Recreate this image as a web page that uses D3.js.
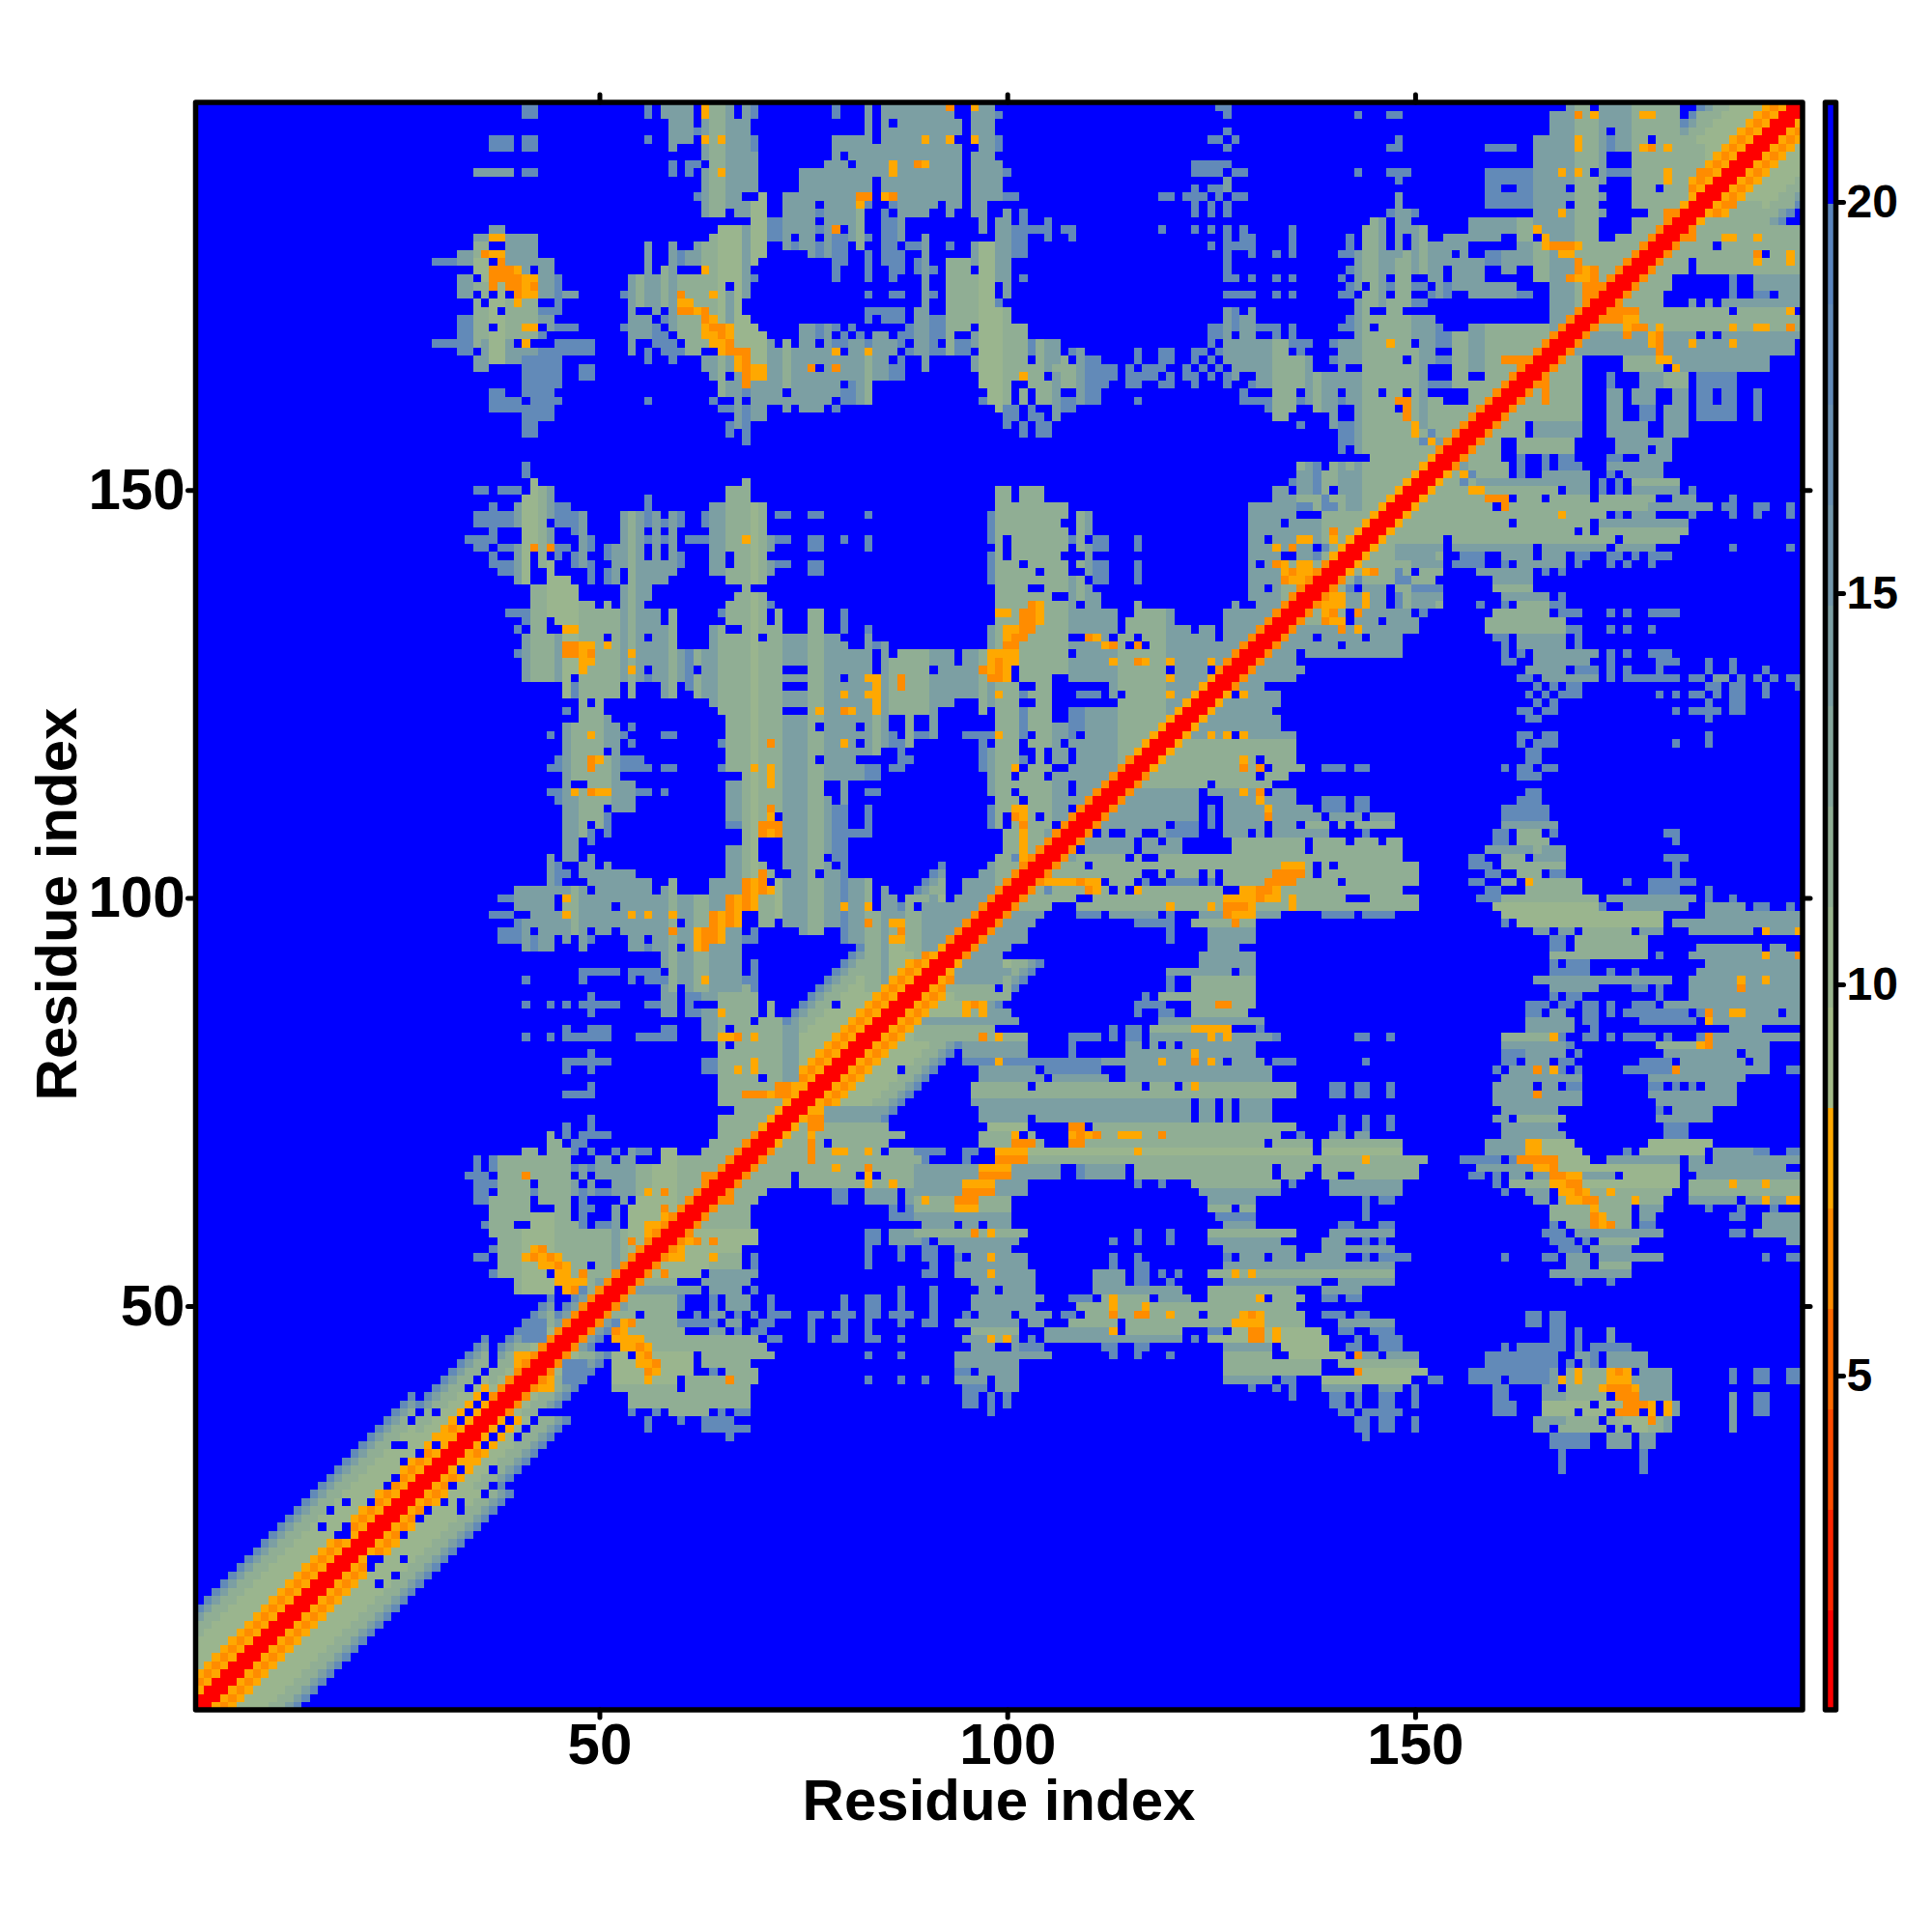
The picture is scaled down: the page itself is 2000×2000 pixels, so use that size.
<!DOCTYPE html>
<html><head><meta charset="utf-8">
<script src="https://cdn.jsdelivr.net/npm/d3@7"></script>
<style>html,body{margin:0;background:#fff}svg{display:block}text{font-family:"Liberation Sans",Arial,sans-serif;font-weight:700;fill:#000}</style>
</head><body><div id="c"></div>
<script>
const residueCount = 197;
const axisTicks = [50, 100, 150];
const barTicks = [5, 10, 15, 20];
const axisTitle = "Residue index";
const barDomain = [0.73, 21.27];
const palette = ["#ff0000","#ff2500","#ff4b00","#ff6a00","#ff8c00","#ffa800","#a4bb88","#9ab58e","#90ae94","#86a69c","#7c9fa3","#7397ab","#6a90b2","#628ab8","#5a84bd","#0000ff"];
// distance (in angstrom) read for each letter used in the contact rows
const levelValues = {".":21, a:18, b:14.2, c:11.6, e:10.3, g:9.1, o:7.6, d:6.3};
// stretches of the main diagonal: first residue, last residue, reach of the halo, helix-like orange stripe
const bandFirst = [1, 28, 37, 45, 70, 93, 116, 126, 140, 153, 183];
const bandLast  = [27, 36, 44, 69, 92, 115, 125, 139, 152, 182, 197];
const bandReach = [12, 10, 7, 4, 12, 4, 8, 4, 8, 4, 12];
const bandHelix = [1, 1, 0, 0, 1, 0, 1, 0, 1, 0, 1];
// Lower-right triangle, read row by row: "y: x0-x1L ..." with L the level letter
const rowsLowY = [
"52:54-62b 64-67b 69a 87a 91a 97a 98a 100-101a","51:54-59c 60a 64a 66-68b 71a 80a 83-84a 87a 91a 96-101b","50:54-59c 60a 64a 66-68b 71a 80a 83-84a 87a 91a 96-101b",
"49:52-54c 56-59c 62a 64-65b 67a 69a 71-73a 76-77a 79-81a 83-84a 86-88a 91a 95a 97-100c 102a",
"48:53o 54d 55-59c 60-63a 64a 66-67b 70-71a 76a 80a 83a 87a 90-91a 94-101b",
"47:52d 53o 54-60c 64-65b 67a 69-70a 76a 80a 83a 96-101c",
"46:52-55o 56-69c 71-72a 76a 79-80a 83-84a 87a 95-97b 98o 99c 100o 101b",
"45:53-54o 55d 56o 57-70c 96-98b 101b",
"44:52-53e 55o 56d 57-61e 63-71c 83a 87a 94-101b","43:46-48a 52-54e 55o 56o 57d 58-61e 63-68c 94-101b",
"42:46-48a 52-55e 56d 57o 58-61e 64a 66-69c 94-95a 97-101b","41:46-47a 52-55e 56o 57-59e 61-65c 66d 67-69c 83a 87a 90a 94-97b 99-101b",
"40:52-59c 61-68c 95-97a 99-101b","39:54-68c 95-96a 98a 100a","38:54-68c 95-96a 98a 100a","37:54a 57a 59-63c 65a 67-68a 98a",
"36:56a 60a 63-66a","35:56a 63-68a","34:66a",
"53:55-59c 63-68b","54:54-62e 58d 64-69b","55:57-63e 64-67c 69a 83a","56:58-64e 58-60o 64o 65-67c 69a 83a 87a","57:59-60o 61-67e 83a 87a",
"58:60-61o 62d 63-69e 64d 83-84a 86-90b","59:61-69e 83-84a 86-90b","60:62-68c","61:63-68c 86-90a","62:64o 65-68c 86a 88-90a",
"63:65-69c 66d 79-80a 83-86b 88-89b 90o","64:66-70c 79-80a 83-86b 88-90b","65:67-73c 75-90c 83o 86o 90o","66:68-73c 75-81c 83o 85-90c",
"67:69-76c 77-90c 79o 83d","68:70-90c 76d","69:71-90c 79-80o 83o 85. 76d 91-92a","70:72-85c 76d 78.","71:73-87c 76o","72:74-85c 76-77d","73:75-84b 76-77d","74:76-84b 76-77o"
];
const rowsMidY = [
"91:93-100b 120-130b 128.","90:94-99b 120a 123-130c","89:93-100c 99. 120a 123-130c","88:94-100c 117a 119-130c","87:95-97o 96d 99a 116-118a 119a 123-130c 126-127d",
"86:95o 96c 97o 98-100b 116a 119-120a 123-129c","85:90-101b 119-131b","84:89-98c 113a 115-116a 118-123c 123-127o 131a",
"83:89-102c 97d 99o 108-111a 113a 115-116a 118-132b 125o 127o 133a 143-144a 147a","82:95-102b 108a 115-130b 117. 119. 121.",
"81:95-102b 108a 115-130b 123o","80:95-111a 112-131b 99o 119o 123d 125o 127. 133-134a 135a 144a","79:97-103b 105-111a 115-132b","78:97-112b 115-132b 105.",
"77:96-135c 123o 103. 117. 121. 140-141a 143-144a 147a","76:96-135c 140-141a 143-144a 147a","75:96-132b 123. 126. 128.","74:97-132b 123. 126. 128.",
"73:97-132b 103. 123. 126. 128. 141a 144a 147a","72:98-102e 108-109d 111-135c 141a 144a 147a",
"71:97-103c 101o 102. 105. 108o 109d 110o 111d 112-133c 114-116o 119d 136a 140-141b 143-144b",
"70:97-104c 101-103d 108-109d 110-148c 132. 138.","69:89-91a 95-96a 99-102o 103-148e 116o 138.","68:90a 95a 99-102d 103-151c 144o",
"67:89-106b 97-100o 109a 110-114b 116-150c 133. 138.","66:89-106b 97-100d 109a 110-114b 116-150c 133. 137-138. 141-142.",
"65:89-102b 95-98o 116a 119a 123-133c 135a 140-148b","64:89-102b 95-98d 124-133b 140-148b","63:89-100c 90o 94-96d 125-130b 144a 146-147a",
"62:89-100c 94-96o 125-130c 128. 144a","61:89-100b 126-130a 144a","60:90-100b 94. 97. 127-130b 141-142a 146-147a",
"59:89-102c 96d 98o 116a 120a 125-135c 140-147b","58:90a 92-101b 113a 116a 120a 125-133b 139-141b 144a 146a","57:90-91a 94-100b 127-135b 139-147b",
"56:90-91a 94a 96-102b 98o 113a 116a 127a 129-131b 133-135b 137-141b 144a 146-149a","55:91a 94-102b 113a 116-117a 127-147b",
"54:90-91a 94-103b 98o 111-114b 116-117a 119a 121a 125-147c 128o 130o","53:96-103b 111-114b 116-117a 120a 127-138b 141-147b",
"52:97-103b 99. 111-121b 125-135c 139-143b","51:96-104b 108-110a 112-117c 113o 119-122b 125-136c 131o 132. 139-140a 142-143a",
"50:96-103b 109-124c 113o 117o 125-135c","49:97-100b 102-105b 107-108a 110-123c 113d 116-117d 120o 125-136c 129-131o 130d 139-141a 143-144a",
"48:103-104b 108-113c 115-124c 125-136c 128-131o 141-147b","47:105-112b 113o 115-121c 125-126a 128-138e 130-131d 133o 141-142a 145-147a",
"46:103a 105-121b 123a 125-139e 130-131d 133o 143a 146-148a","45:102-104a 112-113a 116-117a 127-132b 134-139e 142-143a 146-148a",
"44:102-105b 113a 116a 120a 127-132c 135-141e 143d 144-145b 147-150b","43:127-138c 141-150c","42:127-138c 143d 144-151e",
"41:127-132b 134-135a 139-149e 152-153a","40:130a 133a 135a 139-143b 146-148b 150a","39:135a 140-141a 143a 146-147a 150a","38:140-141a 143a 146-147a 150a",
"37:141-142a 144-148a","36:143-144a 146-147a 150a","35:143-144a 146-147a 150a","34:144a"
];
const rowsUpperMid = [
"92:93-99b 124-130b","93:94-99b 124-130b","94:96-100b 125-128b","95:97-102b 120a 125-130b","96:97-102b 120a 125-130b","97:98-103b 116-120a 123-130c 128d",
"98:99-104b 109-111a 113-118b 120a 124-133b 127d 128-130o 139-142a 144-147a","99:100-105c 109-150c 120o 125o 127-129d 130o 135o",
"100:101-108c 111-150c 127-133o 131d 135o 142-144.","101:102-104c 106-116c 110d 111o 113. 115. 116o 117-126c 129-133o 131-132d 134-148c",
"102:105-111o 109d 113-115c 117a 120-123a 125a 127-131c 132-135d 136-150c 141.","103:104-132c 133-136d 137-150c 138. 117-118. 120. 124. 126.","104:105-150c 134-136o 138. 110. 140.",
"105:106-107b 109-148c 115. 117-118.","106:107-121b 128-148c 109. 116. 137.","107:108-121b 128-148c 116. 119. 137. 142. 146.","108:109-119b 120-123a 127-131b 133-141b 111. 113-114. 117-118. 130. 140-141. 144a 146.","109:110-119b 121-123a 125a 127-131b 133-135b 137-147c 140. 142.",
"110:111-123b 125a 127-131b 132d 133-138b 140-143b 145-147b","111:112-123b 125a 127-131b 132o 133-137b 139-141a 143-144a","112:113-123b 127-130b 131o 132-135b 139-141a 143-144a",
"113:114-123b 125-131b 129o 131d 133-135b","114:115-132c 125.","115:116-134c 131.","116:117-136c 129d 131d 132. 139-141a 143-144a","117:118-135c 129o 131.","118:119-135c","119:120-135c",
"120:121-135b 125o 127o 128. 129o","121:122-133b","122:123-133b","123:124-132b","124:125-133b","125:126-133b 127o 128. 129o","126:127-131b","127:128-135b","128:129-136b","129:130-135b",
"130:131-135b 137-148b","131:132-140b 142-148b","132:133-137b 139-143b 145-148b","133:134-143b 141d 143o 144-150b","134:136-138c 139d 140-141o 143-145b 147-150b",
"135:136-141c 139o 140d 143d 144-149b 151a","136:137-141o 142-146b 144o 148-153c","137:138-141o 142-146b 144o 148-153c","138:139-141c 144-146b 148-150c",
"139:140-142c 144-152c","140:141-150c 144o 145d 148o 150. 151-153c","141:142-152c","142:143-153c","143:144-153c","144:145-153c","145:146-155c","146:147-155c","147:148-155c","148:149-155c","149:150-155c","150:151-155c","151:152-155c","152:153-155c"
];
const rowsRight = [
"153:157-161c 163a 166a 168-170a 174-180b","152:154-155c 157a 159-161c 163a 166-171b 174a 176-180b","151:154-155c 156a 158-171b 173a 175a 177-182c",
"150:152-156c 157-159o 159-167c 168. 169-171b 173a 175a 177-182b 184a","149:155-158c 159-161d 162. 163-165c 167-171c 173-179c 182-184b 189a",
"148:151-159c 161d 162-178c 179-186b 188-189a 192-193a 196a","147:150-152c 155-173c 168o 175a 177-179b 184a 189a 192a 196a","146:149-161c 163-171c 173-183b",
"145:148-183c 170. 172.","144:148-153c 155-182c 175.","143:148-153b 155-164b 166-173b 175-179b 189a 196a","142:148-152b 156-158a 161-164b 166-168b 170-171a 174-175a 177a 179-181a",
"141:150-153b 155-158a 161a 163-168b 170a 174a 176a 179a","140:148a 158-164b 166a 168a","139:148-149a 160-164b","138:150-153a 160-164c","137:148a 150-153b 161-166b 168a",
"136:148a 150-152b 158a 161a 163-166c 167-168a","135:160-166c 168-170a 174a 176a 179-182a","134:159-168c","133:159-168c 169-170a 174a 176a 179a","132:160-161a 163-168b 170a",
"131:161a 163-168b 170a","130:161a 163a 165-172b 174a 176a 179-181a","129:161-162a 165-171b 174a 180-182a 186a 189a","128:164-168b 170-172a 174a 176a 180a 186a 189a 193a",
"127:163-164a 166-172b 174a 176-182a 184-185a 187-188b 190a 192a 194a 196-197a","126:165a 167a 169-170a 186-187a 189-190a 193a 197a","125:164a 166a 168-170a 180a 182a 184-185a 187a 189-190a 193a",
"124:165a 167a 186a 189-190a","123:163-164a 166-167a 182a 184-187a 189-190a","122:164-165a 186a","120:163-164a 166-167a 186a","119:163a 165a 166-167a 182a 186a",
"118:164-165a","117:164-165a","116:161a 163-164a 166-167a","115:163-165a","113:164-165a","112:163-165a","111:161-166a","110:161-166a","109:161-167b",
"108:160-161a 163-165c 167a 181-182a","107:160-161a 163-166c 182a","106:159-168b 165c","105:157-158a 161-163c 165-168b 181-183a","104:157-159a 161-168c 182a",
"103:159-160a 163-165c 167-168a 182a","102:157-158a 161-162c 164o 165-170c 176a 179-184a","101:159-160a 164-170c 179-182a 186a","100:158-160a 161-172c 174-184b 186a 189a",
"99:160-172e 173a 176-183b 186-190b 192-193a 196a","98:161-180e 186-197b","97:161a 163-180e 182-197b","96:165-166b 168-169b 171-176c 178-180b 184-191b 193o 194-196b 197o",
"95:167-168a 170-178c","94:167-168a 170-178c 185-192b 194-195b","93:167-178c 180a 184-196b 193o 197d","92:167a 169-171a 186-197b","91:167-171a 174a 177a 185-197b",
"90:165-181b 184-197b 190o 193o","89:167-172b 177-178a 180a 184-197b 190d","88:167a 169-170a 180a 184-197b","87:164-166a 168-169a 171-172a 174a 177-179a 181-197b",
"86:164-165a 167-168b 171-172a 174a 176-183a 185a 186d 187-188b 189-190o 191-194b 196-197b","85:164-169b 171-172a 178-179a 180-184a 186o 187-197b","84:164-169b 172a 189-192b",
"83:161-166c 167o 168a 171-172a 174a 176-179a 181a 185a 186d 187-197b","82:161-168b 169a 180-184c 185o 186d 187-193b","81:161-163a 164-168b 170a 181-193b 190.",
"80:161-162a 164-166b 168-169a 178-181a 183-190b 192-193b","79:160a 162-164b 165d 166b 167o 168a 170a 176-181a 182d 183-193b 196-197a","78:161-170b 179-190b",
"77:160-164b 166-167b 169-170a 179-180a 182a 184a 186-189b","76:160-164b 165d 166-170b 179-189b","75:160-170b 180-189b","74:161-167b 180a 182-186b","73:160-161b 163-168c 180-186b",
"72:161-167b 181-183a","71:161-168b 181-183a","70:159-163b 164-165o 166-169e 179-186e","69:159-163b 164-165o 166-170e 176a 178-185e 187-191b 192-193a 196-197a",
"68:156-160a 162a 163-167d 168-171e 174-182b 184-185b 187-197b","67:158-165b 165-166o 167d 168-182e 184-195b","66:157-158a 160a 162-163b 165-166b 167-168d 169-170o 171-174b 176-182e 185-197b",
"65:160a 162-166c 167-169o 169d 170d 171-182e 184-197c 189o 193o","64:161a 164-166b 168-169o 170d 171o 172-173c 174o 175-181c 184-197c",
"63:165-166b 168c 169-171o 171d 172d 173-176c 177o 178-180c 184-189b 191-192b 193o 194-195b 196-197o","62:167-171c 172o 173-176c 178-180b 186a 190a 194a",
"61:167-171c 172d 173o 174-176c 178-179b 189-190a 193-197b","60:167a 169-171c 172d 173o 174d 175-176c 178-179a 193-197b","59:166-168a 170-180b 189-190a 192-197b",
"58:167-169a 171a 173-177c 196-197b","57:168-170a 172-176b","56:149a 161a 166-167a 169-171b 173-180b 193a 196-197a","55:169-171b 173-176c","54:167-176b","53:170a 174a",
"49:164-165a 167-168a","48:164-165a 167-168a","47:167-168a 170a 174b","46:167-168a 170a 174b","45:161a 163-168a 170a 172a 173-176a","44:159-161a 162-167a 170-171b 172a 174-178b","43:159-161a 162-167a 169a 171b 172a 174-178b",
"42:157-161a 162-166a 167b 169c 170o 171-173c 174o 175d 176o 178-181b 189a 192-193a 196-197a","41:157-160a 162-166a 167-168b 168o 169c 170o 171-173c 174-176o 177-181b 189a 192-193a 196-197a",
"40:160-161a 166-167b 169-172c 173o 174-176d 177o 178-181b","39:160-161a 166-168b 169-173c 175-177d 178-181b 189b 192-193a","38:160-162a 166-171e 173-175e 176-178d 179o 181o 182b 189b 192-193a","37:160-162a 166-169e 171-173e 175-177d 179o 181o 182b 189b 192-193a",
"36:165-168b 169-172c 174-175c 176-178e 179d 180c 181b 189b","35:165-166b 168-173c 175c 177-178e 179-180c 181b 189b","34:167-171a 174-176b 178-179b","33:167-171a 174-176b 178-179b","32:168a 178a","31:168a 178a","30:168a 178a"
];
const rowsTop = [
"154:155-160c 163a 166a 168-169a 174-175a 178-181b","155:156-160c 163-169c 175-181b 179.","156:156-160c 163-169c 175-181b","157:158-163c 165-170b 174-178b 181-183b","158:158-163c 165-170b 174-178b 181-183b",
"159:160-170c 174-175b 178-179a 181-183b 185-189a 192a","160:160-170c 174-175b 178-179a 181-183b 185-189a 192a","161:162-170c 166d 174-175b 177-179b 182-183b 185-186a 188-189a 192a","162:162-170c 166d 174-175b 177-179b 182-183b 185-186a 188-189a 192a",
"163:164-170c 165-166d 174a 178-180b 181-183c 185-189a","164:164-170c 165-166d 174a 178-180b 181-183c 185-189a","165:165-170c 176-180c 182o 183-193b","166:166-170c 176-180c 180-181o 182-193b",
"167:168-196b 180d","168:169-196b 179o 180d 184o 189o","169:170-197b 176d 179o 180d 185. 187.","170:171-197c 172. 176o 177-178d 180o 189o 192-193o 196d","171:172-173o 174-175d 176-177o 178-197c",
"172:173-177d 178-188c 189. 190-195c 196o","173:174d 175-180c 184-197b 185. 187.","174:175-180c 189a 192-193a 195-197b","175:176-181c 189a 192-197b","176:177-181c 189a 192-197b",
"177:178-179o 180-183c 185-197c","178:179-183c 185-197c 192o 196o","179:180-191c 192d 194-195c 196o 197c","180:181-186c 188-197c","181:182-183c 184d 185-187c 188-189o 190-191c 192o 193-197c",
"182:183o 185-197c","183:184-193c","184:185-186c 189-193c","185:186-187c 189d 190-192c 194-196c"
];
// single residues read as gaps inside the halo around the diagonal
const rowsHoles = [
"16:23.","17:25.","18:22.","19:22-23. 26.","22:26.","24:28.","25:29. 33.","26:31. 33.","27:36.","28:32. 37.","30:33. 37.","33:36.","34:37. 40.","35:38. 41.","36:39. 42.","37:43-44.",
"79:87.","31:34o","32:34o","40:43-44o","41:43d 44o","42:43-44o"
];

const x = d3.scaleLinear().domain([0.5, residueCount + 0.5]).range([202.5, 1866]);
const y = d3.scaleLinear().domain([0.5, residueCount + 0.5]).range([1770, 106]);
const color = d3.scaleQuantize().domain(barDomain).range(palette);
const bar = d3.scaleLinear().domain(barDomain).range([1770, 106]);

const matrix = d3.range(residueCount + 1).map(() => new Float32Array(residueCount + 1).fill(levelValues["."]));
function put(r, c, v) { if (r>=1&&c>=1&&r<=residueCount&&c<=residueCount) { matrix[r][c] = v; matrix[c][r] = v; } }

// halo of the diagonal
bandFirst.forEach((first, s) => {
  const reach = bandReach[s], helix = bandHelix[s];
  for (let r = first; r <= bandLast[s]; r++) for (let d = 0; d <= reach; d++) {
    let k = d <= 1 ? null : d === 2 ? (helix ? "o" : "d") : helix && d === 3 ? "d" : helix && d === 4 ? "o"
      : d >= reach ? "a" : d >= reach - 1 ? "b" : d >= reach - 3 ? "c" : "e";
    put(r, r + d, k === null ? 1.3 : levelValues[k]);
  }
});
// contact rows
[rowsLowY, rowsMidY, rowsUpperMid, rowsRight, rowsTop, rowsHoles].forEach(block => block.forEach(line => {
  const [row, spans] = line.split(":");
  spans.trim().split(/\s+/).forEach(sp => {
    const m = sp.match(/^(\d+)(?:-(\d+))?(.)$/);
    const a = +m[1], b = m[2] ? +m[2] : a;
    for (let c = a; c <= b; c++) if (Math.abs(c - +row) > 2) put(+row, c, levelValues[m[3]]);
  });
}));

const cells = [];
for (let r = 1; r <= residueCount; r++) for (let c = 1; c <= residueCount; c++) cells.push({r, c, v: matrix[r][c]});

const svg = d3.select("#c").append("svg").attr("width", 2000).attr("height", 2000);
svg.append("rect").attr("width", 2000).attr("height", 2000).attr("fill", "#fff");
const w = x(1.5) - x(0.5), h = y(0.5) - y(1.5);
svg.append("g").attr("shape-rendering", "crispEdges").selectAll("rect").data(cells).join("rect")
  .attr("x", d => x(d.c - 0.5)).attr("y", d => y(d.r + 0.5))
  .attr("width", w + 0.5).attr("height", h + 0.5).attr("fill", d => color(d.v));

function styleAxis(g, labelled, size) {
  g.select(".domain").remove();
  g.selectAll(".tick line").attr("stroke", "#000").attr("stroke-width", 5).attr("stroke-linecap", "round");
  if (!labelled) g.selectAll(".tick text").remove();
  else g.selectAll(".tick text").attr("font-size", size).attr("font-family", '"Liberation Sans"').attr("font-weight", 700).attr("fill", "#000");
}
svg.append("g").attr("transform", "translate(0,1770)").call(d3.axisBottom(x).tickValues(axisTicks).tickSize(8).tickPadding(5)).call(g => styleAxis(g, true, 60));
svg.append("g").attr("transform", "translate(0,106)").call(d3.axisTop(x).tickValues(axisTicks).tickSize(8)).call(g => styleAxis(g, false));
svg.append("g").attr("transform", "translate(202.5,0)").call(d3.axisLeft(y).tickValues(axisTicks).tickSize(8).tickPadding(3)).call(g => styleAxis(g, true, 60));
svg.append("g").attr("transform", "translate(1866,0)").call(d3.axisRight(y).tickValues(axisTicks).tickSize(8)).call(g => styleAxis(g, false));
svg.append("rect").attr("x", 202.5).attr("y", 106).attr("width", 1663.5).attr("height", 1664)
  .attr("fill", "none").attr("stroke", "#000").attr("stroke-width", 5.5).attr("stroke-linejoin", "round");

// colour bar
const binEdges = [barDomain[0], ...color.thresholds(), barDomain[1]];
svg.append("g").attr("shape-rendering", "crispEdges").selectAll("rect").data(palette).join("rect")
  .attr("x", 1889.5).attr("width", 11).attr("y", (d, i) => bar(binEdges[i + 1]))
  .attr("height", (d, i) => bar(binEdges[i]) - bar(binEdges[i + 1]) + 0.5).attr("fill", d => d);
svg.append("rect").attr("x", 1889.5).attr("y", 106).attr("width", 11).attr("height", 1664)
  .attr("fill", "none").attr("stroke", "#000").attr("stroke-width", 5.5).attr("stroke-linejoin", "round");
svg.append("g").attr("transform", "translate(1900.5,0)").call(d3.axisRight(bar).tickValues(barTicks).tickSize(8).tickPadding(3)).call(g => styleAxis(g, true, 48));

svg.append("text").attr("x", 1034).attr("y", 1884).attr("text-anchor", "middle").attr("font-size", 60).text(axisTitle);
svg.append("text").attr("transform", "translate(79,936) rotate(-90)").attr("text-anchor", "middle").attr("font-size", 60).text(axisTitle);
</script></body></html>
